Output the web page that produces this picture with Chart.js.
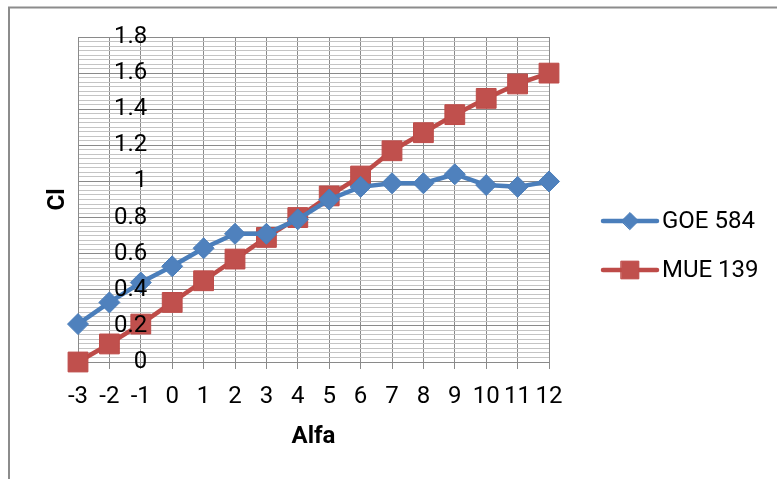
<!DOCTYPE html>
<html>
<head>
<meta charset="utf-8">
<script src="https://cdn.jsdelivr.net/npm/chart.js@4/dist/chart.umd.min.js"></script>
<style>
  html, body { margin: 0; padding: 0; background: #fff; }
  #wrap { position: relative; width: 777px; height: 479px; }
</style>
</head>
<body>
<div id="wrap"><canvas id="c" width="777" height="479"></canvas></div>
<script>
// Angle of attack (Alfa) categories
const alfa = ['-3', '-2', '-1', '0', '1', '2', '3', '4', '5', '6', '7', '8', '9', '10', '11', '12'];
// Lift coefficient per profile
const goe584 = [0.21, 0.33, 0.44, 0.53, 0.63, 0.71, 0.71, 0.79, 0.90, 0.97, 0.99, 0.99, 1.04, 0.98, 0.97, 1.00];
const mue139 = [0.00, 0.10, 0.21, 0.33, 0.45, 0.57, 0.69, 0.80, 0.92, 1.03, 1.17, 1.27, 1.37, 1.46, 1.54, 1.60];
// Labelled y values (one every 0.2; the finer grid lines in between carry no label)
const yTickLabels = ['0', '0.2', '0.4', '0.6', '0.8', '1', '1.2', '1.4', '1.6', '1.8'];
const yMinorPerMajor = 8;

const FONT = 'Roboto, "Liberation Sans", sans-serif';
const BLUE = '#4A7EBB', BLUE_FILL = '#4F81BD';
const RED = '#BE4B48', RED_FILL = '#C0504D';
const GRID_MAJOR = '#8a8a8a', GRID_MINOR = '#c4c4c4';

// Outer frame around the chart
const framePlugin = {
  id: 'frame',
  beforeDraw(chart) {
    const ctx = chart.ctx;
    ctx.save();
    ctx.strokeStyle = '#8c8c8c';
    ctx.lineWidth = 2;
    ctx.strokeRect(9, 7.5, 800, 500);
    ctx.restore();
  }
};

// Legend: line sample with marker, then series name
const lineLegend = {
  id: 'lineLegend',
  afterDraw(chart) {
    const ctx = chart.ctx;
    const rows = [221, 270];
    chart.data.datasets.forEach((ds, i) => {
      const y = rows[i];
      ctx.save();
      ctx.strokeStyle = ds.borderColor;
      ctx.lineWidth = 4.5;
      ctx.lineCap = 'round';
      ctx.beginPath();
      ctx.moveTo(603, y);
      ctx.lineTo(657, y);
      ctx.stroke();
      ctx.fillStyle = ds.pointBackgroundColor;
      ctx.strokeStyle = ds.pointBorderColor;
      ctx.lineWidth = 1;
      Chart.helpers.drawPoint(ctx, {
        pointStyle: ds.pointStyle,
        radius: ds.legendRadius,
        rotation: 0,
        borderWidth: 1
      }, 630, y);
      ctx.fillStyle = '#000';
      ctx.font = '24px ' + FONT;
      ctx.textAlign = 'left';
      ctx.textBaseline = 'middle';
      ctx.fillText(ds.label, 662, y + 1);
      ctx.restore();
    });
  }
};

new Chart(document.getElementById('c'), {
  type: 'line',
  data: {
    labels: alfa,
    datasets: [
      {
        label: 'GOE 584',
        data: goe584,
        borderColor: BLUE,
        backgroundColor: BLUE_FILL,
        pointBackgroundColor: BLUE_FILL,
        pointBorderColor: BLUE,
        pointStyle: 'rectRot',
        pointRadius: 10.5,
        pointHoverRadius: 10.5,
        pointBorderWidth: 1,
        legendRadius: 8.5,
        borderWidth: 4.5,
        borderJoinStyle: 'round',
        tension: 0,
        clip: false
      },
      {
        label: 'MUE 139',
        data: mue139,
        borderColor: RED,
        backgroundColor: RED_FILL,
        pointBackgroundColor: RED_FILL,
        pointBorderColor: RED,
        pointStyle: 'rect',
        pointRadius: 14,
        pointHoverRadius: 14,
        pointBorderWidth: 1,
        legendRadius: 12.5,
        borderWidth: 4.5,
        borderJoinStyle: 'round',
        tension: 0,
        clip: false
      }
    ]
  },
  options: {
    responsive: false,
    animation: false,
    events: [],
    layout: { padding: { left: 0, top: 37, right: 228, bottom: 0 } },
    plugins: {
      legend: { display: false },
      tooltip: { enabled: false }
    },
    scales: {
      x: {
        type: 'category',
        offset: false,
        grid: {
          color: GRID_MAJOR,
          lineWidth: 1,
          drawTicks: true,
          tickLength: 7
        },
        border: { color: GRID_MAJOR, width: 1 },
        ticks: {
          color: '#000',
          font: { family: FONT, size: 24 },
          padding: 14,
          maxRotation: 0,
          autoSkip: false
        },
        title: {
          display: true,
          text: 'Alfa',
          color: '#000',
          font: { family: FONT, size: 24, weight: 'bold' },
          padding: { top: 0, bottom: 28 }
        },
        afterFit(scale) { scale.height = 117; }
      },
      y: {
        type: 'linear',
        min: 0,
        max: 1.8,
        grid: {
          drawTicks: false,
          lineWidth: 1,
          color: (c) => (c.index % yMinorPerMajor === 0 ? GRID_MAJOR : GRID_MINOR)
        },
        border: { color: GRID_MAJOR, width: 1 },
        ticks: {
          stepSize: 0.2 / yMinorPerMajor,
          autoSkip: false,
          mirror: true,
          crossAlign: 'far',
          padding: 36,
          z: 1,
          color: '#000',
          font: { family: FONT, size: 24 },
          callback: (value, index) =>
            index % yMinorPerMajor === 0 ? yTickLabels[index / yMinorPerMajor] : ''
        },
        title: {
          display: true,
          text: 'Cl',
          color: '#000',
          font: { family: FONT, size: 24, weight: 'bold' },
          padding: { top: 44, bottom: 0 }
        },
        afterFit(scale) {
          scale.width = 78;
          scale.paddingTop = 0;
          scale.paddingBottom = 0;
        }
      }
    }
  },
  plugins: [framePlugin, lineLegend]
});
</script>
</body>
</html>
